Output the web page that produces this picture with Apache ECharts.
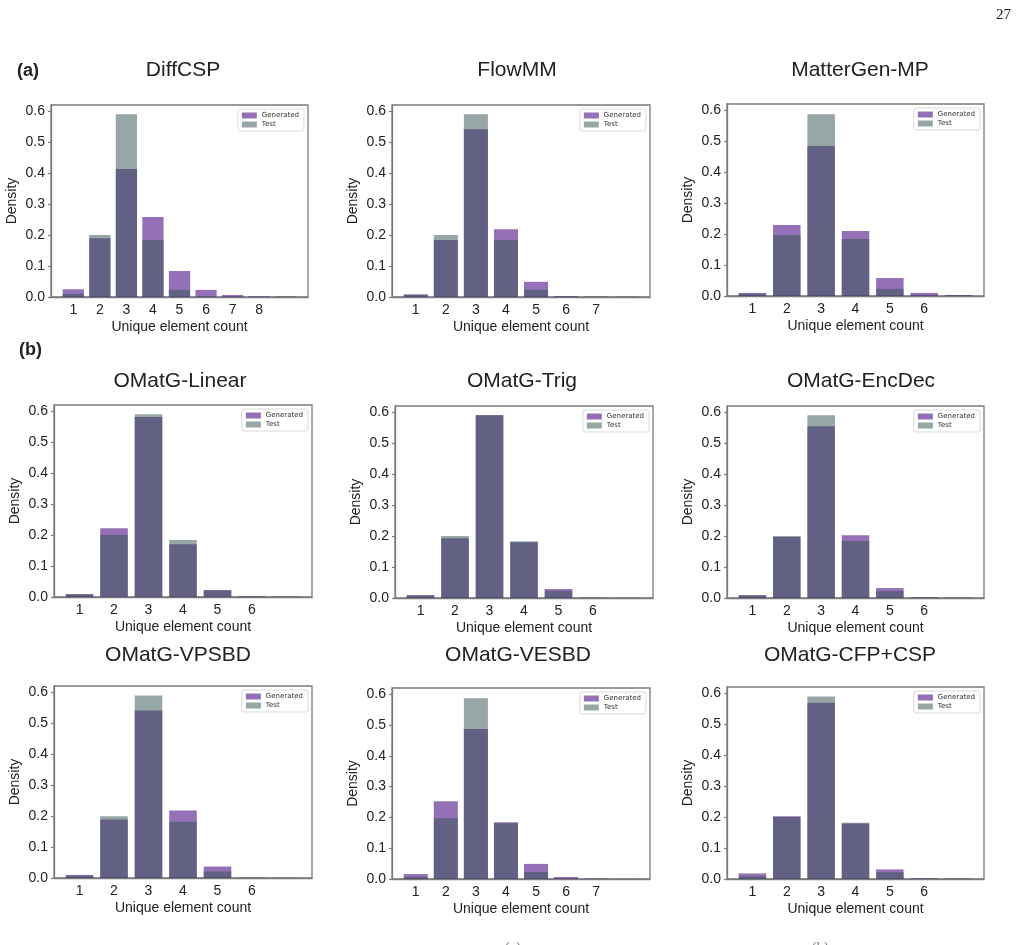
<!DOCTYPE html>
<html>
<head>
<meta charset="utf-8">
<script src="https://cdn.jsdelivr.net/npm/echarts@6/dist/echarts.min.js"></script>
<style>
  html, body { margin: 0; padding: 0; background: #fff; }
  #main { width: 1023px; height: 945px; }
</style>
</head>
<body>
<div id="main"></div>
<script>
const titles = ['DiffCSP', 'FlowMM', 'MatterGen-MP',
  'OMatG-Linear', 'OMatG-Trig', 'OMatG-EncDec',
  'OMatG-VPSBD', 'OMatG-VESBD', 'OMatG-CFP+CSP'];

const yTicks = [0, 0.1, 0.2, 0.3, 0.4, 0.5, 0.6];

// x tick labels per panel
const diffcspTicks = [1, 2, 3, 4, 5, 6, 7, 8];
const flowmmTicks = [1, 2, 3, 4, 5, 6, 7];
const mattergenTicks = [1, 2, 3, 4, 5, 6];
const linearTicks = [1, 2, 3, 4, 5, 6];
const trigTicks = [1, 2, 3, 4, 5, 6];
const encdecTicks = [1, 2, 3, 4, 5, 6];
const vpsbdTicks = [1, 2, 3, 4, 5, 6];
const vesbdTicks = [1, 2, 3, 4, 5, 6, 7];
const cfpTicks = [1, 2, 3, 4, 5, 6];

// density for unique element count 1, 2, 3, ...
const diffcspGen  = [0.025, 0.190, 0.413, 0.258, 0.084, 0.023, 0.0065, 0.002, 0.001];
const diffcspTest = [0.010, 0.200, 0.590, 0.184, 0.023, 0.001, 0.0005, 0.001, 0.001];
const flowmmGen   = [0.007, 0.184, 0.542, 0.219, 0.049, 0.003, 0.001, 0.001];
const flowmmTest  = [0.009, 0.200, 0.590, 0.184, 0.023, 0.001, 0.001, 0.0005];
const mattergenGen  = [0.010, 0.229, 0.484, 0.210, 0.058, 0.010, 0.003];
const mattergenTest = [0.007, 0.197, 0.587, 0.184, 0.023, 0.002, 0.002];
const linearGen  = [0.009, 0.222, 0.581, 0.170, 0.022, 0.002, 0.001];
const linearTest = [0.009, 0.200, 0.590, 0.184, 0.022, 0.002, 0.001];
const trigGen  = [0.009, 0.193, 0.591, 0.180, 0.029, 0.001, 0.0005];
const trigTest = [0.009, 0.200, 0.589, 0.183, 0.023, 0.001, 0.0005];
const encdecGen  = [0.009, 0.197, 0.555, 0.203, 0.032, 0.002, 0.001];
const encdecTest = [0.009, 0.200, 0.590, 0.184, 0.022, 0.002, 0.001];
const vpsbdGen  = [0.010, 0.189, 0.541, 0.218, 0.037, 0.001, 0.0005];
const vpsbdTest = [0.007, 0.199, 0.589, 0.182, 0.021, 0.001, 0.0005];
const vesbdGen  = [0.016, 0.252, 0.487, 0.184, 0.049, 0.0065, 0.001, 0.0005];
const vesbdTest = [0.007, 0.197, 0.587, 0.181, 0.023, 0.001, 0.0005, 0.0003];
const cfpGen  = [0.018, 0.203, 0.569, 0.179, 0.031, 0.002, 0.001];
const cfpTest = [0.009, 0.200, 0.589, 0.182, 0.022, 0.002, 0.001];

const panels = [
  [diffcspGen, diffcspTest, diffcspTicks],
  [flowmmGen, flowmmTest, flowmmTicks],
  [mattergenGen, mattergenTest, mattergenTicks],
  [linearGen, linearTest, linearTicks],
  [trigGen, trigTest, trigTicks],
  [encdecGen, encdecTest, encdecTicks],
  [vpsbdGen, vpsbdTest, vpsbdTicks],
  [vesbdGen, vesbdTest, vesbdTicks],
  [cfpGen, cfpTest, cfpTicks]
];

// plot boxes in px: left, top, right, bottom
const boxes = [
  [51, 105, 308, 297], [392, 105, 650, 297], [727, 104, 984, 296],
  [54, 405, 312, 597], [395, 406, 653, 598], [727, 406, 984, 598],
  [54, 686, 312, 878], [392, 688, 650, 879], [727, 687, 984, 879]
];
const titleX = [183, 517, 860, 180, 522, 861, 178, 518, 850];
const titleY = [70, 70, 70, 381, 381, 381, 655, 655, 655];

const W = 1023;
const GEN = 'rgba(102,51,153,0.7)';
const TEST = 'rgba(47,79,79,0.5)';
const INK = '#222';
const FRAME = '#7a7a7a';
const FONT = 'Liberation Sans';

const chart = echarts.init(document.getElementById('main'));
const option = {
  animation: false,
  backgroundColor: '#fff',
  grid: [], xAxis: [], yAxis: [], series: [], legend: [], title: [],
  graphic: [
    { type: 'text', left: 17, top: 62, style: { text: '(a)', font: 'bold 18px "Liberation Sans"', fill: INK } },
    { type: 'text', left: 19, top: 341, style: { text: '(b)', font: 'bold 18px "Liberation Sans"', fill: INK } },
    { type: 'text', left: 996, top: 8, style: { text: '27', font: '15px "Liberation Serif"', fill: INK } },
    { type: 'text', left: 505, top: 941, style: { text: '(a)', font: '14px "Liberation Serif"', fill: '#777' } },
    { type: 'text', left: 812, top: 941, style: { text: '(b)', font: '14px "Liberation Serif"', fill: '#777' } }
  ]
};

panels.forEach(([gen, test, ticks], i) => {
  const [l, t, r, b] = boxes[i];
  const n = gen.length;
  const pad = 0.05 * (n - 0.2);
  const xmin = 0.6 - pad, xmax = n + 0.4 + pad;
  const bw = 0.8 * (r - l) / (xmax - xmin);

  option.grid.push({
    left: l, top: t, width: r - l, height: b - t,
    show: true, borderColor: FRAME, borderWidth: 1.3, backgroundColor: 'transparent'
  });
  option.title.push({
    text: titles[i], left: titleX[i], top: titleY[i],
    textAlign: 'center', textVerticalAlign: 'middle', padding: 0,
    textStyle: { fontFamily: FONT, fontSize: 21, fontWeight: 'normal', color: INK }
  });
  option.xAxis.push({
    type: 'value', gridIndex: i, min: xmin, max: xmax,
    name: 'Unique element count', nameLocation: 'middle', nameGap: 23,
    nameTextStyle: { fontFamily: FONT, fontSize: 14, color: INK },
    axisLine: { show: true, onZero: false, lineStyle: { color: FRAME, width: 1.3 } },
    axisTick: { show: false, customValues: ticks },
    axisLabel: { customValues: ticks, fontFamily: FONT, fontSize: 14, color: INK, margin: 6 },
    splitLine: { show: false }
  });
  option.yAxis.push({
    type: 'value', gridIndex: i, min: 0, max: 0.62,
    name: 'Density', nameLocation: 'middle', nameGap: 32,
    nameTextStyle: { fontFamily: FONT, fontSize: 14, color: INK },
    axisLine: { show: true, lineStyle: { color: FRAME, width: 1.3 } },
    axisTick: { show: true, length: 3, customValues: yTicks, lineStyle: { color: FRAME, width: 1.2 } },
    axisLabel: {
      customValues: yTicks, fontFamily: FONT, fontSize: 14, color: INK, margin: 6,
      formatter: v => v.toFixed(1)
    },
    splitLine: { show: false }
  });
  option.series.push(
    {
      type: 'bar', name: 'Generated', xAxisIndex: i, yAxisIndex: i,
      data: gen.map((v, k) => [k + 1, v]),
      barWidth: bw, barGap: '-100%', itemStyle: { color: GEN }, silent: true
    },
    {
      type: 'bar', name: 'Test', xAxisIndex: i, yAxisIndex: i,
      data: test.map((v, k) => [k + 1, v]),
      barWidth: bw, barGap: '-100%', itemStyle: { color: TEST }, silent: true
    }
  );
  option.legend.push({
    orient: 'vertical', right: W - r + 4, top: t + 4,
    data: ['Generated', 'Test'], icon: 'rect',
    itemWidth: 15, itemHeight: 6, itemGap: 2, padding: [3, 5, 3, 4],
    borderColor: '#d0d0d0', borderWidth: 0.8, borderRadius: 2,
    backgroundColor: '#fff', selectedMode: false,
    textStyle: { fontFamily: 'DejaVu Sans', fontSize: 7, color: '#333' }
  });
});

chart.setOption(option);
</script>
</body>
</html>
